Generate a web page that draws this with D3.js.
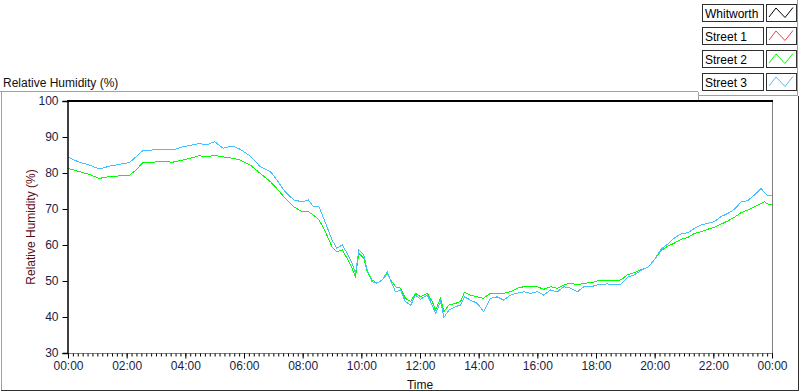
<!DOCTYPE html>
<html>
<head>
<meta charset="utf-8">
<script src="https://cdn.jsdelivr.net/npm/d3@7"></script>
<style>
	body { margin: 0; background: #fff; }
	svg { display: block; font-family: "Liberation Sans", Arial, sans-serif; }
</style>
</head>
<body>
<div id="chart"></div>
<script>

	// legend entries
	const seriesNames = ["Whitworth", "Street 1", "Street 2", "Street 3"];

	// sample times (HH:MM)
	const times = ["00:00","00:23","00:44","01:04","01:25","01:45","02:06","02:19","02:33","02:53","03:14","03:34","03:55","04:15","04:29","04:43","05:00","05:17","05:37",
		"05:52","06:13","06:33","06:54","07:07","07:24","07:42","07:59","08:12","08:22","08:33","08:43","08:51","09:00","09:10","09:21","09:31","09:41","09:48","09:55","10:05","10:12","10:22","10:32","10:43","10:53",
		"11:00","11:10","11:20","11:30","11:41","11:51","12:01","12:15","12:25","12:32","12:42","12:49","12:59","13:13","13:23","13:31","13:43","13:57","14:10","14:24","14:38","14:51","15:05","15:19","15:32","15:46","16:00","16:13","16:27","16:41","16:54","17:08","17:22","17:35","17:49","18:03",
		"18:23","18:37","18:51","19:04","19:18","19:32","19:46","19:59","20:13","20:27","20:40","20:54","21:08","21:21","21:35","21:49","22:02","22:16","22:30","22:43","22:57","23:10","23:24","23:38","23:45","23:51","24:00"];

	// Whitworth and Street 1 have no data in this plot
	const whitworth = [];
	const street1 = [];

	const street2 = [81.3,80.4,79.6,78.5,79.0,79.2,79.4,80.8,82.9,83.0,83.2,83.0,83.6,84.3,84.8,84.5,84.9,84.5,84.1,
		83.6,82.2,79.9,77.6,75.7,73.0,70.6,69.2,69.2,68.3,67.1,64.6,62.3,59.5,58.1,58.6,56.3,53.5,51.2,57.7,56.3,52.6,50.3,49.4,50.3,52.1,
		50.3,48.4,48.0,45.2,44.3,46.6,45.6,46.6,44.3,41.9,45.2,41.5,43.3,43.8,44.3,46.9,46.1,45.6,45.2,46.6,46.6,46.6,47.0,48.0,48.4,48.4,48.4,47.7,48.4,48.0,48.9,49.4,48.9,49.4,49.5,50.0,
		50.1,50.1,50.3,51.7,52.3,53.1,53.8,55.8,58.4,59.7,60.5,61.6,62.1,63.2,63.7,64.4,64.9,65.8,66.7,67.7,69.0,69.7,70.6,71.6,72.0,71.4,71.1];

	const street3 = [84.4,83.0,82.2,81.1,81.9,82.4,82.9,84.5,86.2,86.4,86.6,86.4,87.3,87.8,88.2,87.8,88.7,86.9,87.5,
		86.6,84.7,81.8,80.4,78.1,74.8,72.5,72.0,72.5,70.6,70.8,67.4,64.6,61.4,59.1,60.0,57.7,54.9,52.1,58.6,57.2,53.1,49.8,49.4,50.3,52.6,
		50.0,47.0,47.5,44.3,43.3,46.1,44.9,46.1,43.3,41.0,44.3,39.9,41.9,42.9,43.3,45.6,44.7,43.8,41.5,45.2,45.6,44.7,46.1,46.6,47.0,46.6,47.0,46.1,47.5,47.0,48.4,48.0,47.0,48.4,48.4,48.9,
		49.2,48.9,49.1,51.0,51.7,52.9,53.8,55.8,58.8,60.3,61.9,63.1,63.4,64.6,65.6,66.0,66.5,67.9,68.8,69.9,72.0,72.3,73.9,75.7,74.5,73.7,73.9];

	const yTicks = [30, 40, 50, 60, 70, 80, 90, 100];

	const colorMap = new Map([
		["Whitworth", "#000000"],
		["Street 1", "#ff3c3c"],
		["Street 2", "#00ff00"],
		["Street 3", "#45c0ff"]
	]);

	const seriesData = new Map([
		["Whitworth", whitworth],
		["Street 1", street1],
		["Street 2", street2],
		["Street 3", street3]
	]);

	const width = 800;
	const height = 392;
	const plot = {left: 68, right: 772, top: 101, bottom: 353};

	const parseTime = s => {
		const [h, m] = s.split(":").map(Number);
		return new Date(2000, 0, 1, 0, h * 60 + m);
	};
	const t0 = new Date(2000, 0, 1, 0, 0);
	const t1 = new Date(2000, 0, 2, 0, 0);

	const sx = d3.scaleTime()
		.domain([t0, t1])
		.range([plot.left, plot.right]);

	const sy = d3.scaleLinear()
		.domain([30, 100])
		.range([plot.bottom, plot.top]);

	const svg = d3.select("#chart")
		.append("svg")
		.attr("width", width)
		.attr("height", height);

	// outer frame
	svg.append("line").attr("x1", 0).attr("x2", 698).attr("y1", 91.5).attr("y2", 91.5).attr("stroke", "#a0a0a0");
	svg.append("line").attr("x1", 1.5).attr("x2", 1.5).attr("y1", 91).attr("y2", 391).attr("stroke", "#a0a0a0");
	svg.append("line").attr("x1", 1).attr("x2", 799).attr("y1", 390.5).attr("y2", 390.5).attr("stroke", "#303030");
	svg.append("line").attr("x1", 798.5).attr("x2", 798.5).attr("y1", 96).attr("y2", 391).attr("stroke", "#303030");

	// legend frame
	svg.append("line").attr("x1", 797.5).attr("x2", 797.5).attr("y1", 0).attr("y2", 95).attr("stroke", "#a0a0a0");
	svg.append("line").attr("x1", 698).attr("x2", 798).attr("y1", 95.5).attr("y2", 95.5).attr("stroke", "#a0a0a0");
	svg.append("line").attr("x1", 698.5).attr("x2", 698.5).attr("y1", 92).attr("y2", 100).attr("stroke", "#a0a0a0");

	// title
	svg.append("text")
		.attr("x", 3)
		.attr("y", 87)
		.attr("font-size", 12)
		.attr("fill", "#111")
		.text("Relative Humidity (%)");

	// plot background
	svg.append("rect")
		.attr("x", plot.left)
		.attr("y", plot.top)
		.attr("width", plot.right - plot.left)
		.attr("height", plot.bottom - plot.top)
		.attr("fill", "#fff");

	// lines
	const line = d3.line()
		.x(d => sx(d.t))
		.y(d => sy(d.v));

	const g = svg.append("g").attr("class", "series");
	seriesNames.forEach(name => {
		const vals = seriesData.get(name);
		if (!vals.length) return;
		const pts = vals.map((v, i) => ({t: parseTime(times[i]), v: v}));
		g.append("path")
			.datum(pts)
			.attr("fill", "none")
			.attr("stroke", colorMap.get(name))
			.attr("stroke-width", 1)
			.attr("shape-rendering", "crispEdges")
			.attr("d", line);
	});

	// plot borders
	svg.append("line").attr("x1", plot.left).attr("x2", plot.right).attr("y1", plot.bottom + 0.5).attr("y2", plot.bottom + 0.5).attr("stroke", "#808080");
	svg.append("line").attr("x1", plot.right + 0.5).attr("x2", plot.right + 0.5).attr("y1", plot.top).attr("y2", plot.bottom + 1).attr("stroke", "#808080");
	svg.append("line").attr("x1", plot.left - 1).attr("x2", plot.right + 1).attr("y1", plot.top).attr("y2", plot.top).attr("stroke", "#000").attr("stroke-width", 2);

	// y axis
	const yAxis = d3.axisLeft(sy)
		.tickValues(yTicks)
		.tickSize(5)
		.tickPadding(4);

	const yg = svg.append("g")
		.attr("class", "y axis")
		.attr("transform", `translate(${plot.left - 0.5},0)`)
		.call(yAxis);
	yg.select(".domain").attr("stroke", "#000").attr("stroke-width", 1.5);
	yg.selectAll(".tick line").attr("stroke", "#000");
	yg.selectAll("text")
		.attr("font-size", 12)
		.attr("font-family", "Liberation Sans, Arial, sans-serif")
		.attr("fill", "#1c1c44");

	// x axis: major every 2h, minor every 10 min
	const xAxisMinor = d3.axisBottom(sx)
		.ticks(d3.timeMinute.every(10))
		.tickSize(3)
		.tickFormat("");
	const xm = svg.append("g")
		.attr("transform", `translate(0,${plot.bottom + 0.5})`)
		.call(xAxisMinor);
	xm.select(".domain").remove();
	xm.selectAll(".tick line").attr("stroke", "#000");

	const xAxis = d3.axisBottom(sx)
		.ticks(d3.timeHour.every(2))
		.tickSize(5)
		.tickPadding(3)
		.tickFormat(d3.timeFormat("%H:%M"));
	const xg = svg.append("g")
		.attr("class", "x axis")
		.attr("transform", `translate(0,${plot.bottom + 0.5})`)
		.call(xAxis);
	xg.select(".domain").remove();
	xg.selectAll(".tick line").attr("stroke", "#000");
	xg.selectAll("text")
		.attr("font-size", 12)
		.attr("font-family", "Liberation Sans, Arial, sans-serif")
		.attr("fill", "#1c1c44");

	// axis titles
	svg.append("text")
		.attr("x", (plot.left + plot.right) / 2)
		.attr("y", 389)
		.attr("text-anchor", "middle")
		.attr("font-size", 12)
		.attr("fill", "#111")
		.text("Time");

	svg.append("text")
		.attr("transform", `translate(35,${(plot.top + plot.bottom) / 2}) rotate(-90)`)
		.attr("text-anchor", "middle")
		.attr("font-size", 12)
		.attr("fill", "#5a0a14")
		.text("Relative Humidity (%)");

	// legend
	const legend = svg.append("g")
		.selectAll("g")
		.data(seriesNames)
		.enter()
		.append("g")
		.attr("transform", (d, i) => `translate(0,${4 + i * 23})`);

	legend.append("rect")
		.attr("x", 702.5)
		.attr("y", 0.5)
		.attr("width", 61)
		.attr("height", 17)
		.attr("fill", "#fff")
		.attr("stroke", "#303030");

	legend.append("text")
		.attr("x", 705)
		.attr("y", 13.5)
		.attr("font-size", 12)
		.attr("fill", "#000")
		.text(d => d);

	legend.append("rect")
		.attr("x", 766.5)
		.attr("y", 0.5)
		.attr("width", 30)
		.attr("height", 17)
		.attr("fill", "#fff")
		.attr("stroke", "#303030");

	legend.append("polyline")
		.attr("points", "769,13 776,4 785,13.5 793,3.5")
		.attr("fill", "none")
		.attr("stroke", d => colorMap.get(d))
		.attr("stroke-width", 1);

</script>
</body>
</html>
